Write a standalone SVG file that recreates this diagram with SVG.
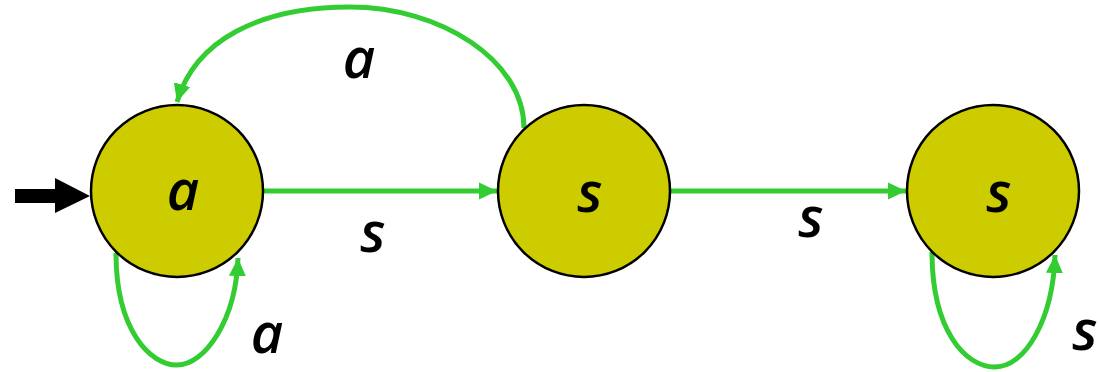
<svg xmlns="http://www.w3.org/2000/svg" width="1099" height="372" viewBox="0 0 1099 372">
<style>
.state{fill:#CCCC00;stroke:#000;stroke-width:2.5}
.edge{fill:none;stroke:#33CC33;stroke-width:5;marker-end:url(#ah)}
.lbl{font-family:"Open Sans","Noto Sans",sans-serif;font-style:italic;font-weight:600;font-size:56px;fill:#000;text-anchor:middle}
</style>
<defs>
<marker id="ah" markerUnits="userSpaceOnUse" markerWidth="20" markerHeight="20" viewBox="0 0 20 20" refX="18" refY="10" orient="auto">
<path d="M0,1.5 L18,10 L0,18.5 Z" fill="#33CC33"/>
</marker>
</defs>
<g id="connectors">
<polygon id="start" points="15,189 55,189 55,178 90,196 55,213 55,203 15,203" fill="#000"/>
<path class="edge" d="M263,191 L497,191"/>
<path class="edge" d="M670,191 L906,191"/>
<path class="edge" d="M524,128 C524,60 440,7 350,7 C260,7 195,40 177,102"/>
<path class="edge" d="M116,253 C116,330 150,365 177,365 C205,365 236,320 238,258"/>
<path class="edge" d="M932,252 C932,330 965,367 995,367 C1025,367 1053,320 1055,255"/>
<text class="lbl" x="359" y="78">a</text>
<text class="lbl" x="373" y="252">s</text>
<text class="lbl" x="811" y="237">s</text>
<text class="lbl" x="267" y="353">a</text>
<text class="lbl" x="1085" y="350">s</text>
</g>
<g id="node-a">
<circle class="state" cx="177" cy="191" r="86"/>
<text class="lbl" x="183" y="210">a</text>
</g>
<g id="node-s1">
<circle class="state" cx="584" cy="191" r="86"/>
<text class="lbl" x="590" y="212">s</text>
</g>
<g id="node-s2">
<circle class="state" cx="993" cy="191" r="86"/>
<text class="lbl" x="999" y="212">s</text>
</g>
</svg>
